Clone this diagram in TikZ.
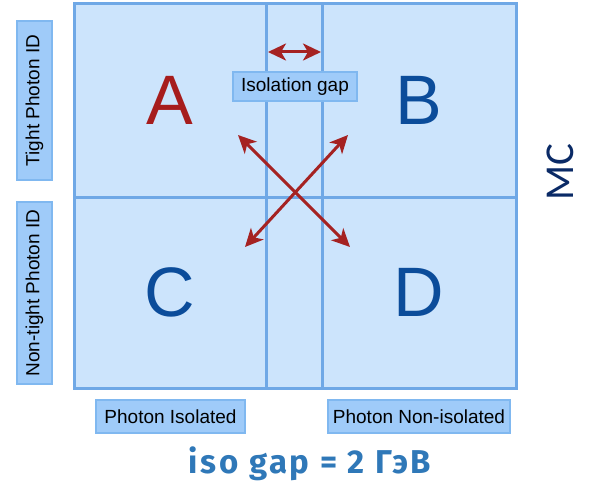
\documentclass[tikz,border=0pt]{standalone}
\usepackage{fontspec}
\setmainfont{Liberation Sans}
\newfontfamily\mcfont{Carlito}
\newfontfamily\gapfont{Fira Sans}[LetterSpace=8]
\usetikzlibrary{arrows.meta,positioning}
\definecolor{cellfill}{HTML}{CCE4FC}
\definecolor{cellline}{HTML}{6FA8E6}
\definecolor{boxfill}{HTML}{9FCBF9}
\definecolor{boxline}{HTML}{80B8F0}
\definecolor{letterred}{HTML}{A61C1C}
\definecolor{letterblue}{HTML}{0B4C9A}
\definecolor{arrowred}{HTML}{A52222}
\definecolor{mcblue}{HTML}{0A2A66}
\definecolor{gapblue}{HTML}{2F78B8}

\begin{document}
\begin{tikzpicture}[
    x=1pt, y=-1pt,
    cell/.style={
        rectangle,
        draw=cellline,
        fill=cellfill,
        line width=3pt,
        inner sep=0pt,
        font=\fontsize{70}{70}\selectfont
    },
    lbl/.style={
        rectangle,
        draw=boxline,
        fill=boxfill,
        line width=1.2pt,
        inner sep=0pt,
        font=\fontsize{19}{19}\selectfont
    },
    arrow/.style={{Stealth[length=18pt,width=17pt,inset=5pt]}-{Stealth[length=18pt,width=17pt,inset=5pt]}, line width=3pt, draw=arrowred}
]
\useasboundingbox (0,0) rectangle (589,484);

% grid of the four regions and the gap column
\node[cell, minimum width=192pt, minimum height=193pt, text=letterred] (A) at (170,100.5) {A};
\node[cell, minimum width=56pt, minimum height=193pt] (gtop) at (294,100.5) {};
\node[cell, minimum width=194pt, minimum height=193pt, text=letterblue] (B) at (419,100.5) {B};
\node[cell, minimum width=192pt, minimum height=191pt, text=letterblue] (C) at (170,292.5) {C};
\node[cell, minimum width=56pt, minimum height=191pt] (gbot) at (294,292.5) {};
\node[cell, minimum width=194pt, minimum height=191pt, text=letterblue] (D) at (419,292.5) {D};

% axis labels
\node[lbl, rotate=90, minimum width=159pt, minimum height=35pt] (tight) at (34.5,100.5) {Tight Photon ID};
\node[lbl, rotate=90, minimum width=182pt, minimum height=35pt] (nontight) at (34.5,293) {Non-tight Photon ID};
\node[lbl, minimum width=149pt, minimum height=33pt] (iso) at (170.5,416.5) {Photon Isolated};
\node[lbl, minimum width=182pt, minimum height=33pt] (noniso) at (419,416.5) {Photon Non-isolated};

% gap width
\coordinate (gl) at (268,52);
\coordinate (gr) at (321,52);
\draw[arrow] (gl) -- (gr);
\node[lbl, minimum width=124pt, minimum height=29pt] (gap) at (295,86.5) {Isolation gap};

% cross arrows
\coordinate (tl) at (238,135);
\coordinate (tr) at (348,135);
\coordinate (bl) at (245,247);
\coordinate (br) at (350,247);
\draw[arrow] (tl) -- (br);
\draw[arrow] (tr) -- (bl);

\node[rotate=90, text=mcblue, font=\mcfont\fontsize{41}{41}\selectfont] (mc) at (560,172) {MC};
\node[text=gapblue, font=\gapfont\bfseries\fontsize{33}{33}\selectfont] (gapval) at (310,464) {iso gap = 2 ГэВ};

\end{tikzpicture}
\end{document}
